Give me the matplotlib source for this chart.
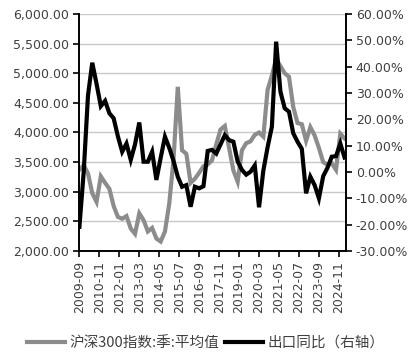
import numpy as np
import matplotlib
matplotlib.use("Agg")
import matplotlib.pyplot as plt
from matplotlib.ticker import FuncFormatter, FixedLocator

plt.rcParams['font.family'] = ['DejaVu Sans']

# Quarterly observations, 2009-09 .. 2025-03 (month offsets from 2009-09)
quarter_months = list(range(0, 187, 3))

csi300_qavg = [3370, 3450, 3310, 2975, 2830, 3260, 3150, 3050, 2760, 2575,
               2545, 2590, 2380, 2290, 2635, 2520, 2330, 2390, 2210, 2160,
               2330, 2800, 3540, 4770, 3700, 3640, 3150, 3220, 3320, 3430,
               3460, 3530, 3800, 4050, 4110, 3740, 3360, 3170, 3700, 3820,
               3850, 3960, 4000, 3930, 4720, 4960, 5240, 5120, 5000, 4940,
               4430, 4160, 4140, 3860, 4090, 3950, 3740, 3500, 3455, 3480,
               3370, 3980, 3900]

export_yoy = [-20.8, 0.0, 29.0, 41.5, 33.5, 25.0, 27.0, 22.3, 20.4, 13.5,
              7.7, 10.8, 4.6, 10.5, 18.8, 3.9, 3.9, 7.7, -3.0, 5.4,
              13.4, 9.2, 4.2, -1.8, -5.6, -5.0, -13.2, -5.6, -6.2, -5.4,
              8.0, 8.4, 7.0, 10.5, 14.0, 12.1, 11.5, 4.0, 0.8, -1.0,
              0.1, 2.5, -13.4, 0.5, 9.4, 17.2, 49.5, 30.5, 24.2, 22.9,
              14.7, 11.5, 8.8, -8.1, -1.8, -5.0, -10.0, -1.6, 1.6, 5.8,
              6.0, 10.8, 5.5]

tick_months = [0, 14, 28, 42, 56, 70, 84, 98, 112, 126, 140, 154, 168, 182]
tick_labels = ["2009-09", "2010-11", "2012-01", "2013-03", "2014-05", "2015-07",
               "2016-09", "2017-11", "2019-01", "2020-03", "2021-05", "2022-07",
               "2023-09", "2024-11"]

left_ticks = [2000, 2500, 3000, 3500, 4000, 4500, 5000, 5500, 6000]
right_ticks = [-30, -20, -10, 0, 10, 20, 30, 40, 50, 60]

name_left = "沪深300指数:季:平均值"
name_right = "出口同比（右轴）"

GRAY = "#8c8c8c"
TXT = "#404040"
W, H = 412, 359
fig = plt.figure(figsize=(W / 100, H / 100), dpi=100)
ax = fig.add_axes([79 / W, (H - 251) / H, (346 - 79) / W, (251 - 14) / H])
ax2 = ax.twinx()

l1, = ax.plot(quarter_months, csi300_qavg, color=GRAY, lw=3.0, solid_joinstyle='miter')
l2, = ax2.plot(quarter_months, export_yoy, color="black", lw=3.0, solid_joinstyle='miter')

ax.set_xlim(-0.3, 187)
ax.set_ylim(2000, 6000)
ax2.set_ylim(-30, 60)
ax.yaxis.set_major_locator(FixedLocator(left_ticks))
ax2.yaxis.set_major_locator(FixedLocator(right_ticks))
ax.yaxis.set_major_formatter(FuncFormatter(lambda v, p: f"{v:,.2f}"))
ax2.yaxis.set_major_formatter(FuncFormatter(lambda v, p: f"{v:.2f}%"))
ax.set_xticks(tick_months)
ax.set_xticklabels(tick_labels, rotation=90)

ax.grid(axis='y', color="#c8c8c8", lw=1.0)
ax.set_axisbelow(True)
for s in ['top']:
    ax.spines[s].set_visible(False)
    ax2.spines[s].set_visible(False)
ax2.spines['right'].set_visible(True)
for a in (ax, ax2):
    for s in ['left', 'right', 'bottom']:
        a.spines[s].set_color('black')
        a.spines[s].set_linewidth(1.2)
ax.tick_params(axis='both', colors='black', labelcolor=TXT, labelsize=9, length=4, width=1.2, pad=3)
ax2.tick_params(axis='y', colors='black', labelcolor=TXT, labelsize=9, length=4, width=1.2, pad=3)

fig.legend([l1, l2], [name_left, name_right], loc='center', bbox_to_anchor=(0.5, (H - 343) / H),
           ncol=2, frameon=False, handlelength=2.6, handletextpad=0.3, columnspacing=0.4,
           prop={'family': ['Noto Sans CJK SC', 'DejaVu Sans'], 'size': 10.5},
           labelcolor=TXT)

fig.savefig("out.png", dpi=100)
